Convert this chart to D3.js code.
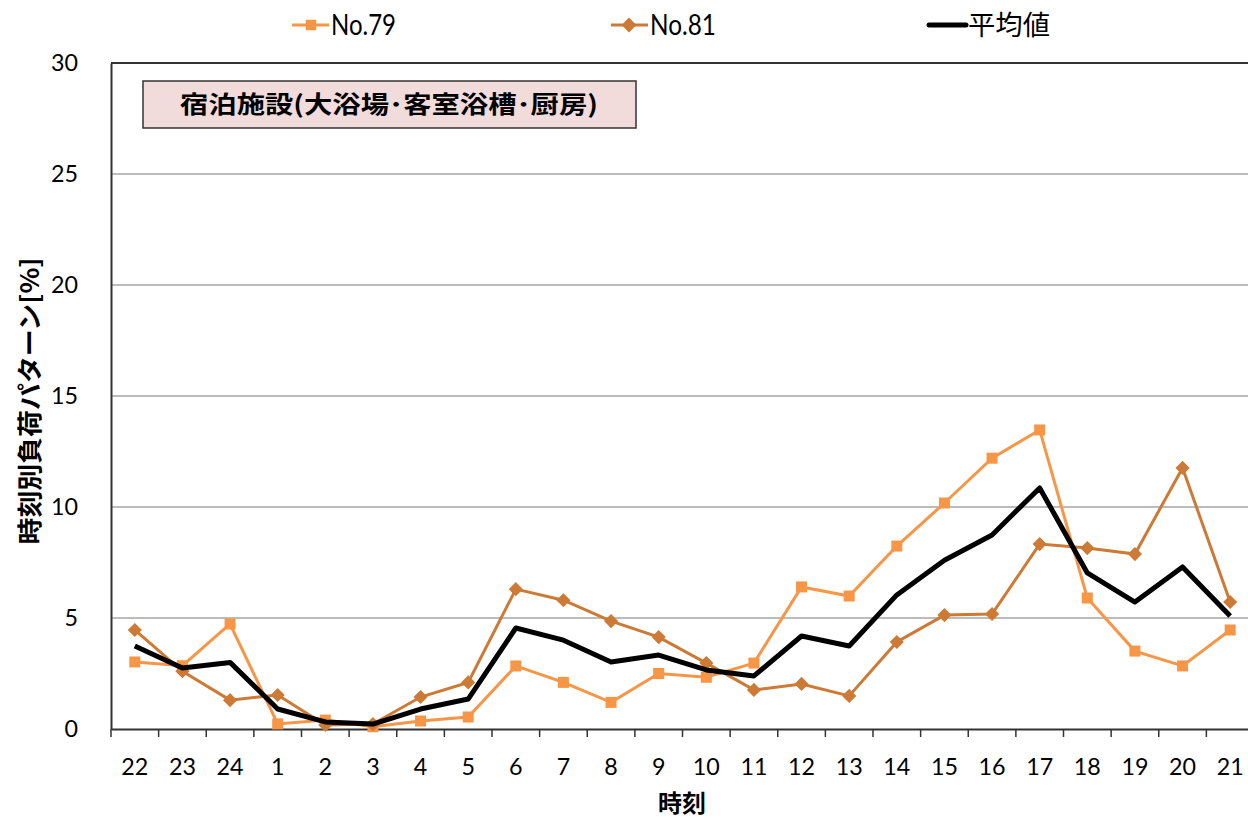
<!DOCTYPE html>
<html><head><meta charset="utf-8">
<script src="https://cdn.jsdelivr.net/npm/d3@7"></script>
<style>body{margin:0;background:#fff;}svg{display:block;}</style>
</head><body>
<svg id="c" width="1248" height="819"></svg>
<script>
const categories = ["22","23","24","1","2","3","4","5","6","7","8","9","10","11","12","13","14","15","16","17","18","19","20","21"];
const no79 = [3.02,2.85,4.73,0.23,0.4,0.1,0.36,0.54,2.84,2.1,1.2,2.5,2.33,2.97,6.4,5.99,8.24,10.18,12.2,13.47,5.9,3.51,2.84,4.46];
const no81 = [4.46,2.6,1.3,1.53,0.18,0.22,1.44,2.1,6.3,5.8,4.86,4.14,2.97,1.76,2.03,1.49,3.92,5.13,5.18,8.33,8.15,7.88,11.76,5.72];
const avg  = [3.74,2.75,3.0,0.9,0.32,0.22,0.9,1.35,4.55,4.0,3.02,3.33,2.66,2.39,4.19,3.74,6.04,7.6,8.74,10.86,7.03,5.72,7.3,5.09];
const yTicks = [0,5,10,15,20,25,30];
const seriesNames = ["No.79","No.81","平均値"];
const titleText = "宿泊施設(大浴場･客室浴槽･厨房)";
const yTitle = "時刻別負荷パターン[%]";
const xTitle = "時刻";

const svg = d3.select("#c");
const L = 111, R = 1254, T = 63, B = 729;
const x = d3.scaleBand().domain(categories).range([L, R]);
const y = d3.scaleLinear().domain([0,30]).range([B, T]);
const font = "Lato, 'Open Sans', 'Noto Sans', sans-serif";
const jfont = "'Noto Sans CJK JP', sans-serif";
const digitW = 13.5;

// gridlines
svg.append("g").selectAll("line").data(yTicks.filter(d=>d>0)).join("line")
  .attr("x1", L).attr("x2", R).attr("y1", d=>y(d)).attr("y2", d=>y(d))
  .attr("stroke", d=> d===30 ? "#333" : "#a6a6a6").attr("stroke-width", d=> d===30 ? 2 : 1.5);

// y axis
const yAxis = svg.append("g").attr("transform", `translate(${L},0)`)
  .call(d3.axisLeft(y).tickValues(yTicks).tickSize(0).tickPadding(33));
yAxis.select(".domain").attr("stroke","#333").attr("stroke-width",2);
yAxis.selectAll("text").attr("font-family", font).attr("font-size", 24).attr("fill","#000")
  .attr("textLength", d => String(d).length*digitW).attr("lengthAdjust","spacingAndGlyphs");

// x axis
const xAxis = svg.append("g").attr("transform", `translate(0,${B})`)
  .call(d3.axisBottom(x).tickSize(0).tickPadding(29));
xAxis.select(".domain").attr("stroke","#333").attr("stroke-width",2);
xAxis.selectAll("text").attr("font-family", font).attr("font-size", 24).attr("fill","#000")
  .attr("textLength", d => String(d).length*digitW).attr("lengthAdjust","spacingAndGlyphs");
// boundary ticks
const bounds = categories.map(c => x(c)).concat([R]);
svg.append("g").selectAll("line").data(bounds).join("line")
  .attr("x1", d=>d).attr("x2", d=>d).attr("y1", B).attr("y2", B+8)
  .attr("stroke","#333").attr("stroke-width",1.5);

const cx = c => x(c) + x.bandwidth()/2;
const line = d3.line().x((d,i)=>cx(categories[i])).y(d=>y(d));

const c79 = "#f79646", c81 = "#cc7a35";
svg.append("path").datum(no79).attr("d", line).attr("fill","none").attr("stroke", c79).attr("stroke-width",3);
svg.append("path").datum(no81).attr("d", line).attr("fill","none").attr("stroke", c81).attr("stroke-width",3);

svg.append("g").selectAll("rect").data(no79).join("rect")
  .attr("x",(d,i)=>cx(categories[i])-5.5).attr("y",d=>y(d)-5.5).attr("width",11).attr("height",11).attr("fill",c79);
const diamond = d3.symbol().type(d3.symbolSquare).size(100);
svg.append("g").selectAll("path").data(no81).join("path")
  .attr("d", diamond).attr("transform",(d,i)=>`translate(${cx(categories[i])},${y(d)}) rotate(45)`).attr("fill",c81);

svg.append("path").datum(avg).attr("d", line).attr("fill","none").attr("stroke","#000").attr("stroke-width",5).attr("stroke-linejoin","round");

// title box
svg.append("rect").attr("x",143).attr("y",81).attr("width",493).attr("height",47)
  .attr("fill","#f2dcdb").attr("stroke","#333").attr("stroke-width",1.5);
svg.append("text").attr("x",389).attr("y",113).attr("text-anchor","middle")
  .attr("font-family",jfont).attr("font-weight","bold").attr("font-size",24)
  .attr("textLength",418).attr("lengthAdjust","spacingAndGlyphs").text(titleText);

// axis titles
svg.append("text").attr("transform","translate(39,401) rotate(-90)").attr("text-anchor","middle")
  .attr("font-family",jfont).attr("font-weight","bold").attr("font-size",25)
  .attr("textLength",287).attr("lengthAdjust","spacingAndGlyphs").text(yTitle);
svg.append("text").attr("x",682).attr("y",812).attr("text-anchor","middle")
  .attr("font-family",jfont).attr("font-weight","bold").attr("font-size",24).text(xTitle);

// legend
const sqLeg = d3.symbol().type(d3.symbolSquare).size(110);
const leg = [{n:seriesNames[0],x:292,c:c79,m:"sq",w:3,tw:65},{n:seriesNames[1],x:611,c:c81,m:"di",w:3,tw:66},{n:seriesNames[2],x:929,c:"#000",m:null,w:5,tw:82}];
const lg = svg.append("g");
leg.forEach(l=>{
  lg.append("line").attr("x1",l.x).attr("x2",l.x+37).attr("y1",25).attr("y2",25).attr("stroke",l.c).attr("stroke-width",l.w).attr("stroke-linecap", l.m ? "butt" : "round");
  if(l.m==="sq") lg.append("path").attr("d",sqLeg).attr("transform",`translate(${l.x+19},25)`).attr("fill",l.c);
  if(l.m==="di") lg.append("path").attr("d",sqLeg).attr("transform",`translate(${l.x+18},25) rotate(45)`).attr("fill",l.c);
  lg.append("text").attr("x",l.x+39).attr("y",35).attr("font-family", l.m ? font : jfont).attr("font-size", l.m ? 28 : 27)
    .attr("textLength",l.tw).attr("lengthAdjust","spacingAndGlyphs").text(l.n);
});
</script>
</body></html>
